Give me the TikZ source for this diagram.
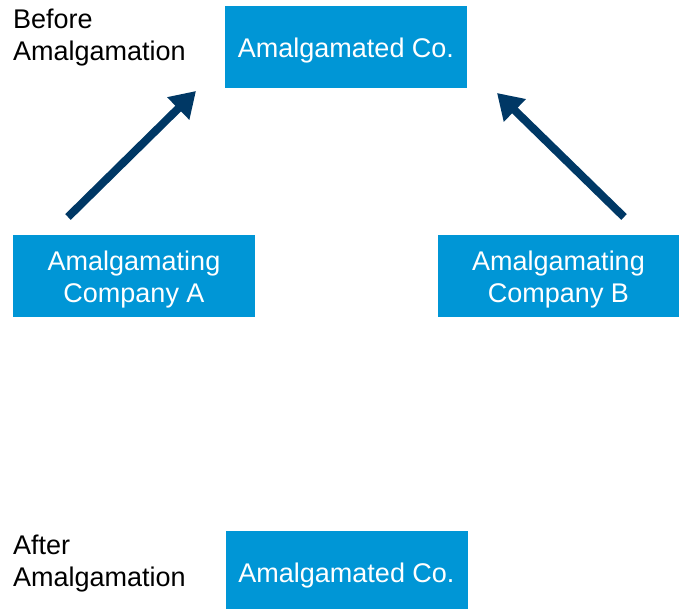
\documentclass[tikz,border=0pt]{standalone}
\usepackage{fontspec}
\setmainfont{Liberation Sans}
\usetikzlibrary{arrows.meta}
\definecolor{boxblue}{RGB}{0,150,214}
\definecolor{navy}{RGB}{0,56,101}
% invisible strut that sets the first line a little lower in a box
\newcommand\boxstrut{\rule{0pt}{27pt}}
\begin{document}
\begin{tikzpicture}[x=1pt,y=-1pt,
  company/.style={fill=boxblue, text=white, minimum width=242pt, minimum height=82pt,
    inner sep=0pt, align=center, font=\fontsize{27}{32}\selectfont},
  caption/.style={anchor=north west, inner sep=0pt, align=left,
    font=\fontsize{27}{32}\selectfont},
  merge/.style={draw=navy, line width=8pt,
    -{Triangle[length=25pt,width=30pt]}}]
\useasboundingbox (0,0) rectangle (679,608);

% companies
\node[company] (top) at (346,47) {\boxstrut Amalgamated Co.};
\node[company] (compA) at (134,276) {\boxstrut Amalgamating\\Company A};
\node[company] (compB) at (558.5,276) {\boxstrut Amalgamating\\Company B};
\node[company] (after) at (346.5,572) {\boxstrut Amalgamated Co.};

% side captions
\node[caption] (before) at (13,9) {Before\\Amalgamation};
\node[caption] (afterlbl) at (13,535) {After\\Amalgamation};

% arrow end points
\coordinate (aStart) at (68,217);
\coordinate (aEnd) at (196,91);
\coordinate (bStart) at (624,217);
\coordinate (bEnd) at (497,93);

\draw[merge] (aStart) -- (aEnd);
\draw[merge] (bStart) -- (bEnd);
\end{tikzpicture}
\end{document}
